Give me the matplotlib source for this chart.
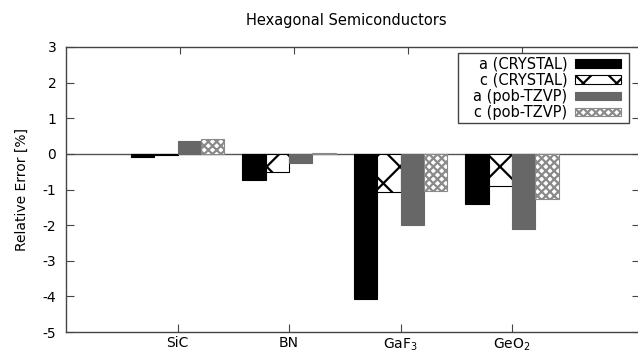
import matplotlib
matplotlib.use('Agg')
import matplotlib.pyplot as plt
from matplotlib.patches import Rectangle
from matplotlib.transforms import IdentityTransform
import numpy as np

# Data
materials = ['SiC', 'BN', 'GaF$_3$', 'GeO$_2$']
a_crystal = [-0.10, -0.72, -4.08, -1.40]
c_crystal = [-0.03, -0.50, -1.08, -0.90]
a_pob = [0.37, -0.25, -2.00, -2.12]
c_pob = [0.42, 0.02, -1.05, -1.27]
series_labels = ['a (CRYSTAL)', 'c (CRYSTAL)', 'a (pob-TZVP)', 'c (pob-TZVP)']
yticks = [-5, -4, -3, -2, -1, 0, 1, 2, 3]

plt.rcParams['font.family'] = 'DejaVu Sans'
plt.rcParams['hatch.linewidth'] = 1.6

fig = plt.figure(figsize=(6.38, 3.56), dpi=100)
ax = fig.add_axes([66 / 638, 24 / 356, 574 / 638, 285 / 356])

x = np.arange(1, len(materials) + 1)
w = 0.21
series = [a_crystal, c_crystal, a_pob, c_pob]
styles = [
    dict(facecolor='black', edgecolor='black', hatch=None),
    dict(facecolor='white', edgecolor='black', hatch='x'),
    dict(facecolor='#676767', edgecolor='#676767', hatch=None),
    dict(facecolor='white', edgecolor='#8a8a8a', hatch='xxxx'),
]
for i, (vals, st) in enumerate(zip(series, styles)):
    ax.bar(x + (i - 1.5) * w, vals, w, label=series_labels[i], linewidth=0.8, **st)

ax.axhline(0, color='#555555', lw=1.0, zorder=0)
ax.set_xlim(0, 574 / 111.5)
ax.set_ylim(-5, 3)
ax.set_xticks(x)
ax.set_xticklabels(materials, fontsize=10)
ax.set_yticks(yticks)
ax.set_yticklabels([str(t) for t in yticks], fontsize=10)
ax.tick_params(axis='y', direction='in', length=6, width=0.8, color='#444444',
               left=True, right=True, pad=7)
ax.tick_params(axis='x', direction='in', length=6, width=0.8, color='#444444',
               bottom=True, top=False, pad=3)
for sp in ax.spines.values():
    sp.set_color('#444444')
    sp.set_linewidth(1.0)

# gnuplot-style mirrored ticks on top (slightly different scale)
ax2 = ax.twiny()
ax2.set_xlim(0, 574 / 114)
ax2.set_xticks(x)
ax2.set_xticklabels([])
ax2.tick_params(axis='x', direction='in', length=5, width=0.8, color='#444444')
for sp in ax2.spines.values():
    sp.set_visible(False)

ax.set_ylabel('Relative Error [%]', fontsize=10, labelpad=10)
fig.text(346 / 638, 1 - 20 / 356, 'Hexagonal Semiconductors', fontsize=10.5,
         ha='center', va='center')

leg = ax2.legend(*ax.get_legend_handles_labels(),
                 loc='upper right', bbox_to_anchor=(625 / 638, 1 - 53 / 356),
                 bbox_transform=fig.transFigure, fontsize=10.5, markerfirst=False,
                 frameon=False, handlelength=3.15, handleheight=0.5,
                 labelspacing=0.08, borderpad=0.25, handletextpad=0.55,
                 borderaxespad=0)
for t in leg.get_texts():
    t.set_ha('right')
leg._legend_box.align = 'right'
leg.set_zorder(5)

# box around the legend, wider padding left/right like gnuplot's key
fig.canvas.draw()
bb = leg.get_window_extent()
frame = Rectangle((bb.x0 - 12, bb.y0 + 1), bb.width + 16, bb.height - 1,
                  transform=IdentityTransform(), facecolor='white',
                  edgecolor='#444444', lw=1.0, zorder=4, clip_on=False)
ax2.add_artist(frame)

fig.savefig('out.png', dpi=100)
